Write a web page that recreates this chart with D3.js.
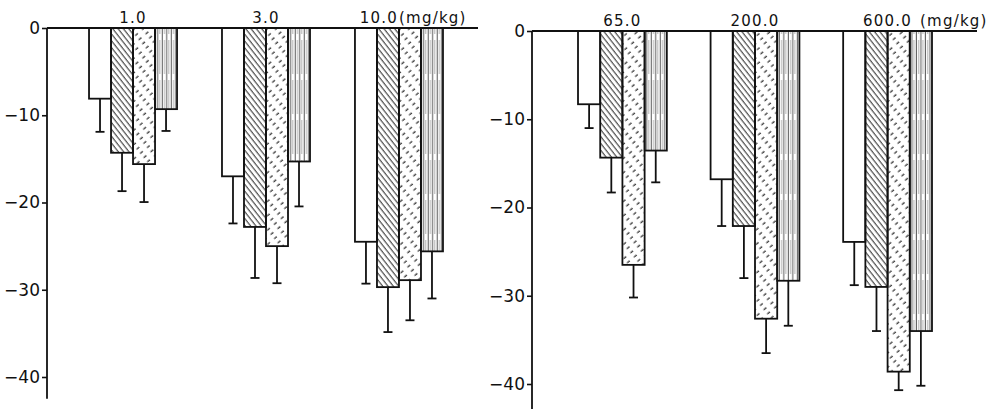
<!DOCTYPE html>
<html>
<head>
<meta charset="utf-8">
<script src="https://cdn.jsdelivr.net/npm/d3@7"></script>
<style>
body { margin: 0; background: #fff; }
svg { display: block; }
.tick text { font-family: "DejaVu Sans", sans-serif; font-size: 17px; fill: #111; }
.tick line { stroke: #111; stroke-width: 1.6; }
.grp { font-family: "DejaVu Sans", sans-serif; font-size: 15px; letter-spacing: 1.2px; fill: #111; }
</style>
</head>
<body>
<div id="chart"></div>
<script>
var w = 1000, h = 409;

// doses (mg/kg) for each panel
var dosesLeft = ["1.0", "3.0", "10.0"];
var dosesRight = ["65.0", "200.0", "600.0"];
var unitLabel = "(mg/kg)";
var seriesNames = ["open", "backslash", "dashed", "vertical"];
var yTicks = [0, -10, -20, -30, -40];

// mean change, four bars per dose
var meansLeft = [[-8.1, -14.3, -15.6, -9.3], [-17.0, -22.8, -25.0, -15.3], [-24.5, -29.7, -28.9, -25.6]];
var errLeft = [[3.8, 4.4, 4.35, 2.5], [5.4, 5.85, 4.25, 5.15], [4.8, 5.15, 4.6, 5.4]];
var meansRight = [[-8.3, -14.35, -26.5, -13.55], [-16.8, -22.1, -32.6, -28.3], [-23.9, -29.0, -38.6, -34.0]];
var errRight = [[2.7, 3.95, 3.7, 3.6], [5.3, 5.9, 3.9, 5.1], [4.9, 5.0, 2.1, 6.2]];

var svg = d3.select("#chart").append("svg")
	.attr("width", w)
	.attr("height", h);

// hatch patterns
var defs = svg.append("defs");
var p1 = defs.append("pattern").attr("id", "pat-backslash")
	.attr("patternUnits", "userSpaceOnUse")
	.attr("width", 4.2).attr("height", 10)
	.attr("patternTransform", "rotate(-38)");
p1.append("line").attr("x1", 1).attr("y1", 0).attr("x2", 1).attr("y2", 10)
	.attr("stroke", "#111").attr("stroke-width", 0.9);

var p2 = defs.append("pattern").attr("id", "pat-dashed")
	.attr("patternUnits", "userSpaceOnUse")
	.attr("width", 5.5).attr("height", 9)
	.attr("patternTransform", "rotate(50)");
p2.append("line").attr("x1", 2).attr("y1", 2).attr("x2", 2).attr("y2", 5.5)
	.attr("stroke", "#111").attr("stroke-width", 1.1);

var p3 = defs.append("pattern").attr("id", "pat-vertical")
	.attr("patternUnits", "userSpaceOnUse")
	.attr("width", 4.5).attr("height", 40);
p3.append("line").attr("x1", 1.2).attr("y1", 0).attr("x2", 1.2).attr("y2", 40)
	.attr("stroke", "#222").attr("stroke-width", 0.8);
p3.append("line").attr("x1", 3.4).attr("y1", 0).attr("x2", 3.4).attr("y2", 34)
	.attr("stroke", "#777").attr("stroke-width", 0.6);

var fills = ["#fff", "url(#pat-backslash)", "url(#pat-dashed)", "url(#pat-vertical)"];

function drawPanel(doses, means, errs, cfg) {
	var g = svg.append("g");

	var yScale = d3.scaleLinear()
		.domain([0, -40])
		.range([cfg.yTop, cfg.yBottom]);

	var xGroup = d3.scaleBand()
		.domain(doses)
		.range([cfg.axisX, cfg.xEnd])
		.paddingInner(cfg.padIn)
		.paddingOuter(cfg.padOut);

	var xBar = d3.scaleBand()
		.domain(seriesNames)
		.range([0, xGroup.bandwidth()]);

	// left axis
	var yAxis = d3.axisLeft(yScale)
		.tickValues(yTicks)
		.tickFormat(d3.format("d"))
		.tickSize(5)
		.tickPadding(2);
	var yAxisG = g.append("g")
		.attr("transform", "translate(" + cfg.axisX + ",0)")
		.call(yAxis);
	yAxisG.select(".domain").remove();
	g.append("line")
		.attr("x1", cfg.axisX).attr("x2", cfg.axisX)
		.attr("y1", yScale(0)).attr("y2", yScale(cfg.axisMin))
		.attr("stroke", "#111").attr("stroke-width", 1.8);

	// bars and error bars
	doses.forEach(function(dose, i) {
		var rows = seriesNames.map(function(s, j) {
			return {series: s, idx: j, mean: means[i][j], se: errs[i][j]};
		});
		var grp = g.append("g")
			.attr("transform", "translate(" + xGroup(dose) + ",0)");

		grp.selectAll("line.err").data(rows).enter()
			.append("line").attr("class", "err")
			.attr("x1", function(d) { return xBar(d.series) + xBar.bandwidth() / 2; })
			.attr("x2", function(d) { return xBar(d.series) + xBar.bandwidth() / 2; })
			.attr("y1", function(d) { return yScale(d.mean); })
			.attr("y2", function(d) { return yScale(d.mean - d.se); })
			.attr("stroke", "#111").attr("stroke-width", 1.8);
		grp.selectAll("line.cap").data(rows).enter()
			.append("line").attr("class", "cap")
			.attr("x1", function(d) { return xBar(d.series) + xBar.bandwidth() / 2 - 4.5; })
			.attr("x2", function(d) { return xBar(d.series) + xBar.bandwidth() / 2 + 4.5; })
			.attr("y1", function(d) { return yScale(d.mean - d.se); })
			.attr("y2", function(d) { return yScale(d.mean - d.se); })
			.attr("stroke", "#111").attr("stroke-width", 1.8);

		grp.selectAll("rect").data(rows).enter()
			.append("rect")
			.attr("x", function(d) { return xBar(d.series); })
			.attr("y", yScale(0))
			.attr("width", xBar.bandwidth())
			.attr("height", function(d) { return yScale(d.mean) - yScale(0); })
			.attr("fill", function(d) { return fills[d.idx]; })
			.attr("stroke", "#111")
			.attr("stroke-width", 1.8);

		// dose label above the zero line
		var lx = xGroup(dose) + xGroup.bandwidth() / 2;
		if (i == doses.length - 1) lx += cfg.lastShift;
		var t = g.append("text").attr("class", "grp")
			.attr("x", lx)
			.attr("y", yScale(0) - 5)
			.attr("text-anchor", "middle")
			.text(dose);
		if (i == doses.length - 1) {
			var end = t.node().getBBox();
			g.append("text").attr("class", "grp")
				.attr("x", end.x + end.width + cfg.unitGap)
				.attr("y", yScale(0) - 5)
				.text(unitLabel);
		}
	});

	// zero line
	g.append("line")
		.attr("x1", cfg.axisX).attr("x2", cfg.lineEnd)
		.attr("y1", yScale(0)).attr("y2", yScale(0))
		.attr("stroke", "#111").attr("stroke-width", 1.8);
}

drawPanel(dosesLeft, meansLeft, errLeft, {
	axisX: 47, xEnd: 485, padIn: 0.338, padOut: 0.316,
	yTop: 28, yBottom: 377, axisMin: -42.5,
	lineEnd: 478, lastShift: -20, unitGap: 1
});
drawPanel(dosesRight, meansRight, errRight, {
	axisX: 532, xEnd: 978, padIn: 0.33, padOut: 0.347,
	yTop: 31, yBottom: 384, axisMin: -43.5,
	lineEnd: 977, lastShift: 0, unitGap: 8
});
</script>
</body>
</html>
